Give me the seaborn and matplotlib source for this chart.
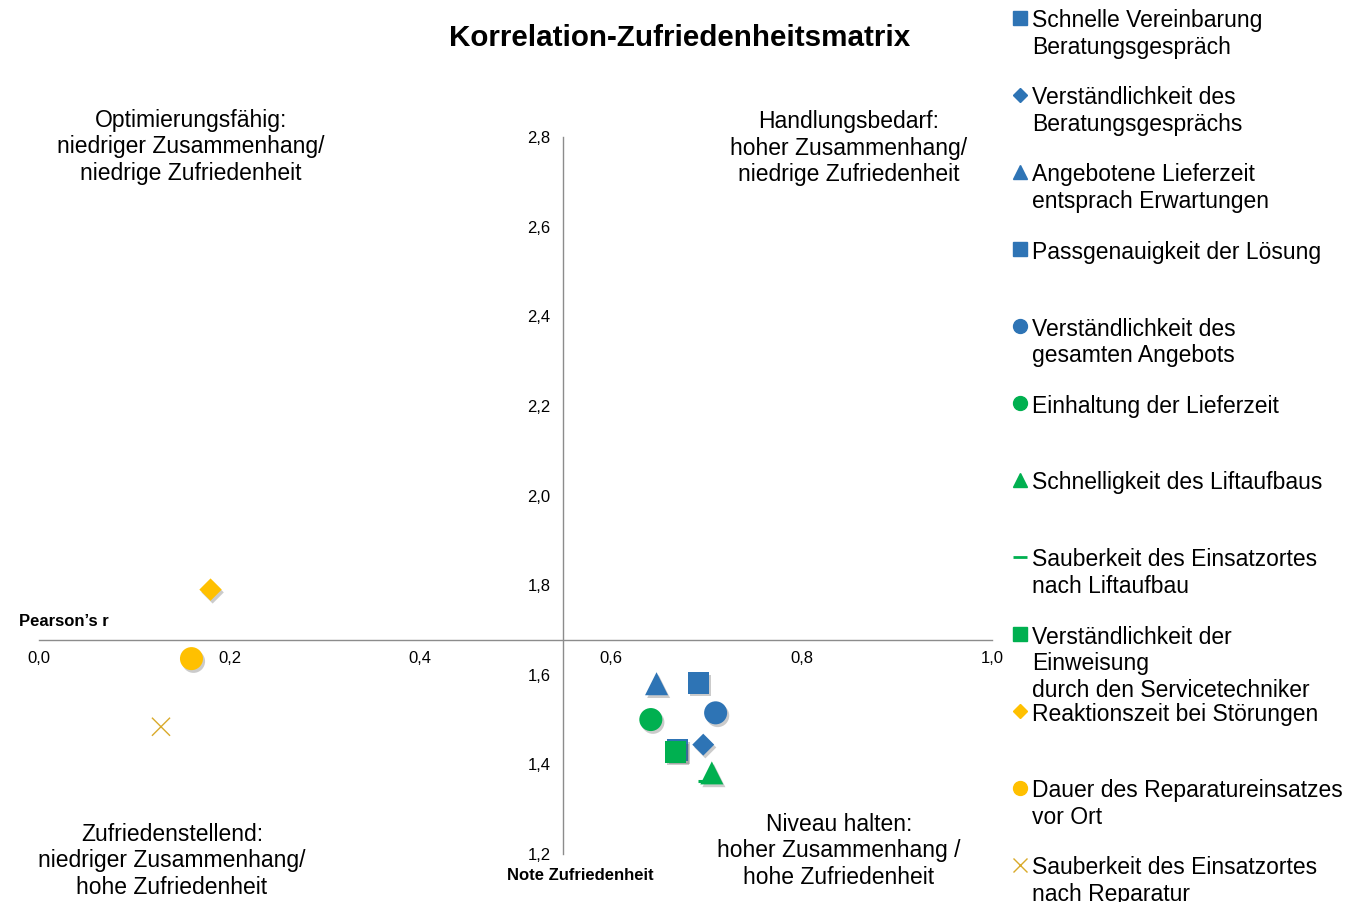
import numpy as np
import pandas as pd
import seaborn as sns
import matplotlib.pyplot as plt
import matplotlib.patheffects as pe
from matplotlib.lines import Line2D
from matplotlib.ticker import FuncFormatter, MultipleLocator

# Werte
labels = [
    "Schnelle Vereinbarung\nBeratungsgespräch",
    "Verständlichkeit des\nBeratungsgesprächs",
    "Angebotene Lieferzeit\nentsprach Erwartungen",
    "Passgenauigkeit der Lösung",
    "Verständlichkeit des\ngesamten Angebots",
    "Einhaltung der Lieferzeit",
    "Schnelligkeit des Liftaufbaus",
    "Sauberkeit des Einsatzortes\nnach Liftaufbau",
    "Verständlichkeit der\nEinweisung\ndurch den Servicetechniker",
    "Reaktionszeit bei Störungen",
    "Dauer des Reparatureinsatzes\nvor Ort",
    "Sauberkeit des Einsatzortes\nnach Reparatur",
]
pearson_r = [0.692, 0.697, 0.648, 0.670, 0.710, 0.642, 0.706, 0.700, 0.668, 0.180, 0.160, 0.128]
note = [1.582, 1.444, 1.580, 1.432, 1.515, 1.500, 1.381, 1.362, 1.428, 1.790, 1.636, 1.484]

BLUE = "#2e74b5"
GREEN = "#00b050"
YELLOW = "#ffc000"
GOLD = "#d9aa2a"
colors = [BLUE, BLUE, BLUE, BLUE, BLUE, GREEN, GREEN, GREEN, GREEN, YELLOW, YELLOW, GOLD]
markers = ["s", "D", "^", "s", "o", "o", "^", "_", "s", "D", "o", "x"]
sizes = [245, 125, 275, 245, 275, 275, 275, 150, 245, 130, 275, 170]
legend_ms = [10, 7, 10, 10, 10, 10, 10, 10, 10, 7, 10, 10]

df = pd.DataFrame({"label": labels, "r": pearson_r, "note": note,
                   "color": colors, "marker": markers, "size": sizes})

sns.set_theme(style="white")
plt.rcParams["font.family"] = ["Liberation Sans", "DejaVu Sans"]
plt.rcParams["text.color"] = "black"

W, H = 1349, 902
fig = plt.figure(figsize=(W / 100, H / 100), dpi=100)
ax = fig.add_axes([39 / W, 1 - 854 / H, (992 - 39) / W, (854 - 137) / H])

shadow = [pe.SimplePatchShadow(offset=(1.5, -2), alpha=0.3, shadow_rgbFace="#555555"), pe.Normal()]

# Reihenfolge so, dass grüne Quadrate über den blauen liegen
for i, row in df.iterrows():
    lw = 2.2 if row["marker"] == "_" else (1.0 if row["marker"] == "x" else 0)
    sns.scatterplot(x=[row["r"]], y=[row["note"]], ax=ax, marker=row["marker"],
                    color=row["color"], s=row["size"], linewidth=lw,
                    edgecolor=row["color"] if row["marker"] in ("_", "x") else "none",
                    legend=False, zorder=3 + i, clip_on=False)
for coll in ax.collections:
    coll.set_path_effects(shadow)

ax.set_xlim(0, 1.0)
ax.set_ylim(1.2, 2.8)
ax.xaxis.set_major_locator(MultipleLocator(0.2))
ax.yaxis.set_major_locator(MultipleLocator(0.2))
comma = FuncFormatter(lambda v, p: f"{v:.1f}".replace(".", ","))
ax.xaxis.set_major_formatter(comma)
ax.yaxis.set_major_formatter(comma)

for s in ["top", "right"]:
    ax.spines[s].set_visible(False)
ax.spines["left"].set_position(("data", 0.55))
ax.spines["bottom"].set_position(("data", 1.678))
for s in ["left", "bottom"]:
    ax.spines[s].set_color("#8c8c8c")
    ax.spines[s].set_linewidth(1.0)
ax.tick_params(axis="x", direction="in", length=4, width=1, color="#8c8c8c",
               labelsize=12, pad=8, labelcolor="black")
ax.tick_params(axis="y", direction="out", length=4, width=1, color="#8c8c8c",
               labelsize=12, pad=5, labelcolor="black")
ax.set_xlabel("")
ax.set_ylabel("")
ax.patch.set_alpha(0)

fig.text(19 / W, 1 - 621 / H, "Pearson’s r", fontsize=12, fontweight="bold",
         ha="left", va="center")
fig.text(580 / W, 1 - 875 / H, "Note Zufriedenheit", fontsize=12, fontweight="bold",
         ha="center", va="center")

fig.text(680 / W, 1 - 38 / H, "Korrelation-Zufriedenheitsmatrix", fontsize=21.3,
         fontweight="bold", ha="center", va="center")

quadrants = [
    (191, 147, "Optimierungsfähig:\nniedriger Zusammenhang/\nniedrige Zufriedenheit"),
    (849, 148, "Handlungsbedarf:\nhoher Zusammenhang/\nniedrige Zufriedenheit"),
    (172, 861, "Zufriedenstellend:\nniedriger Zusammenhang/\nhohe Zufriedenheit"),
    (839, 851, "Niveau halten:\nhoher Zusammenhang /\nhohe Zufriedenheit"),
]
for qx, qy, txt in quadrants:
    fig.text(qx / W, 1 - qy / H, txt, fontsize=16.5, ha="center", va="center",
             multialignment="center", linespacing=1.22)

# Legende rechts, feste Abstände wie im Original
for i, row in df.iterrows():
    yc = 18 + 77 * i
    mk = row["marker"]
    fig.add_artist(Line2D([1020 / W], [1 - yc / H], transform=fig.transFigure,
                          marker=mk, markersize=legend_ms[i], linestyle="none",
                          color=row["color"], markeredgewidth=2.0 if mk == "_" else 1.0,
                          markeredgecolor=row["color"]))
    fig.text(1032 / W, 1 - (yc - 8.5) / H, row["label"], fontsize=16.5,
             ha="left", va="top", linespacing=1.2)

fig.savefig("out.png", dpi=100)
